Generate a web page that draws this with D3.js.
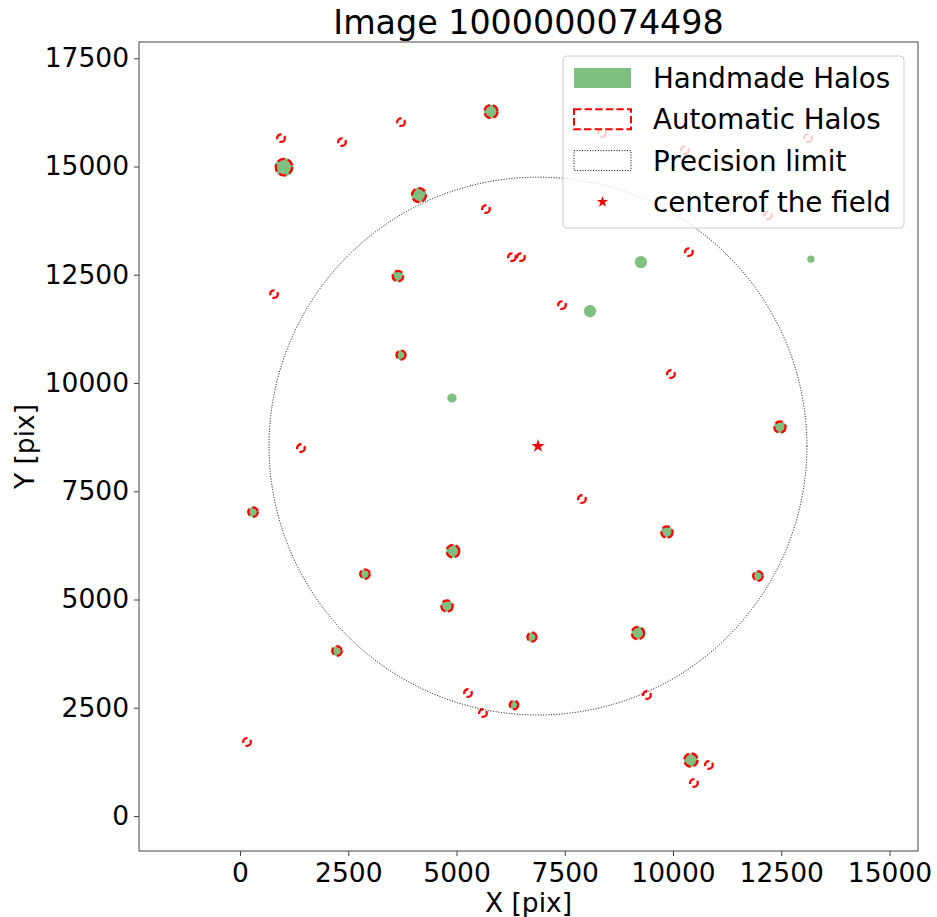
<!DOCTYPE html>
<html lang="en">
<head>
    <script src="https://cdn.jsdelivr.net/npm/d3@7/dist/d3.min.js"></script>
    <meta charset="UTF-8">
    <title>Image 1000000074498</title>
    <style>
        body {
            margin: 0;
            background: #fff;
        }

        svg text {
            font-family: "DejaVu Sans", sans-serif;
            fill: #000;
        }

        .tick line {
            stroke: #444;
        }
    </style>
</head>
<body>
<svg id="chart" width="937" height="917"></svg>
<script>
    // handmade halos (green discs)
    var handX = [1016, 5796, 4133, 3648, 3718, 300, 4918, 2886, 4780, 2240, 6327, 6742, 9190, 9860, 11961, 12469, 10414, 9259, 8082, 4895, 13184];
    var handY = [14986, 16269, 14339, 12469, 10645, 7019, 6119, 5588, 4849, 3810, 2563, 4133, 4225, 6558, 5542, 8982, 1293, 12792, 11660, 9652, 12861];
    var handR = [215, 165, 178, 135, 118, 118, 158, 118, 142, 118, 108, 118, 155, 142, 118, 142, 165, 142, 142, 108, 84];

    // automatic halos (red dashed rings)
    var autoX = [1016, 5796, 4133, 3648, 3718, 300, 4918, 2886, 4780, 2240, 6327, 6742, 9190, 9860, 11961, 12469, 10414,
        947, 2355, 3718, 5680, 6281, 6488, 7435, 785, 1408, 9952, 10367, 7897, 5265, 5611, 9398, 162, 10829, 10483, 8359, 13115, 10275, 12192];
    var autoY = [14986, 16269, 14339, 12469, 10645, 7019, 6119, 5588, 4849, 3810, 2563, 4133, 4225, 6558, 5542, 8982, 1293,
        15655, 15563, 16024, 14016, 12907, 12907, 11799, 12053, 8497, 10206, 13023, 7320, 2840, 2378, 2794, 1709, 1178, 762, 15771, 15655, 15378, 13870];
    var autoR = [190, 150, 160, 122, 105, 110, 145, 110, 130, 110, 98, 105, 142, 130, 110, 130, 152,
        88, 88, 88, 88, 88, 88, 88, 88, 88, 88, 88, 88, 88, 88, 88, 88, 88, 88, 88, 88, 88, 88];

    var fieldCenter = [6881, 8543];
    var precisionRadius = 6211;

    var xTicks = [0, 2500, 5000, 7500, 10000, 12500, 15000];
    var yTicks = [0, 2500, 5000, 7500, 10000, 12500, 15000, 17500];

    var legendLabels = ["Handmade Halos", "Automatic Halos", "Precision limit", "centerof the field"];

    var svg = d3.select("#chart");
    var plotL = 139, plotR = 918, plotT = 42, plotB = 851;

    var x = d3.scaleLinear().domain([-2333, 15658]).range([plotL, plotR]);
    var y = d3.scaleLinear().domain([-808, 17875]).range([plotB, plotT]);
    var k = x(1) - x(0);

    svg.append("defs").append("clipPath")
            .attr("id", "plot-clip")
            .append("rect")
            .attr("x", plotL)
            .attr("y", plotT)
            .attr("width", plotR - plotL)
            .attr("height", plotB - plotT);

    var plot = svg.append("g").attr("clip-path", "url(#plot-clip)");

    var handData = handX.map(function (v, i) {
        return {x: v, y: handY[i], r: handR[i]};
    });
    var autoData = autoX.map(function (v, i) {
        return {x: v, y: autoY[i], r: autoR[i]};
    });

    plot.append("g")
            .selectAll("circle")
            .data(handData)
            .enter().append("circle")
            .attr("cx", function (d) {
                return x(d.x);
            })
            .attr("cy", function (d) {
                return y(d.y);
            })
            .attr("r", function (d) {
                return d.r * k;
            })
            .attr("fill", "green")
            .attr("fill-opacity", 0.5);

    plot.append("g")
            .selectAll("circle")
            .data(autoData)
            .enter().append("circle")
            .attr("cx", function (d) {
                return x(d.x);
            })
            .attr("cy", function (d) {
                return y(d.y);
            })
            .attr("r", function (d) {
                return d.r * k;
            })
            .attr("fill", "none")
            .attr("stroke", "red")
            .attr("stroke-width", 2.3)
            .attr("stroke-dasharray", "7.4 3.2");

    plot.append("circle")
            .attr("cx", x(fieldCenter[0]))
            .attr("cy", y(fieldCenter[1]))
            .attr("r", precisionRadius * k)
            .attr("fill", "none")
            .attr("stroke", "#000")
            .attr("stroke-width", 1)
            .attr("stroke-dasharray", "1 1.65");

    plot.append("path")
            .attr("d", d3.symbol().type(d3.symbolStar).size(55)())
            .attr("transform", "translate(" + x(fieldCenter[0]) + "," + y(fieldCenter[1]) + ")")
            .attr("fill", "red");

    // axes
    var xAxis = svg.append("g")
            .attr("transform", "translate(0," + plotB + ")")
            .call(d3.axisBottom(x).tickValues(xTicks).tickSize(5).tickPadding(7).tickFormat(d3.format("d")));
    var yAxis = svg.append("g")
            .attr("transform", "translate(" + plotL + ",0)")
            .call(d3.axisLeft(y).tickValues(yTicks).tickSize(5).tickPadding(5).tickFormat(d3.format("d")));
    [xAxis, yAxis].forEach(function (a) {
        a.select(".domain").remove();
        a.selectAll("text").style("font-size", "26.5px").style("font-family", "'DejaVu Sans', sans-serif");
    });

    svg.append("rect")
            .attr("x", plotL)
            .attr("y", plotT)
            .attr("width", plotR - plotL)
            .attr("height", plotB - plotT)
            .attr("fill", "none")
            .attr("stroke", "#444")
            .attr("stroke-width", 1);

    svg.append("text")
            .attr("x", (plotL + plotR) / 2)
            .attr("y", 34)
            .attr("text-anchor", "middle")
            .style("font-size", "33.3px")
            .text("Image 1000000074498");

    svg.append("text")
            .attr("x", (plotL + plotR) / 2)
            .attr("y", 912)
            .attr("text-anchor", "middle")
            .style("font-size", "26.5px")
            .text("X [pix]");

    svg.append("text")
            .attr("transform", "translate(34," + (plotT + plotB) / 2 + ") rotate(-90)")
            .attr("text-anchor", "middle")
            .style("font-size", "26.5px")
            .text("Y [pix]");

    // legend
    var legend = svg.append("g").attr("transform", "translate(563,56)");
    legend.append("rect")
            .attr("width", 341)
            .attr("height", 172)
            .attr("rx", 4)
            .attr("fill", "#fff")
            .attr("fill-opacity", 0.8)
            .attr("stroke", "#ccc");

    var rows = legend.selectAll("g.row")
            .data(legendLabels)
            .enter().append("g")
            .attr("class", "row")
            .attr("transform", function (d, i) {
                return "translate(0," + (22 + i * 41.3) + ")";
            });

    rows.append("text")
            .attr("x", 90)
            .attr("dy", "0.36em")
            .style("font-size", "27.7px")
            .text(function (d) {
                return d;
            });

    rows.each(function (d, i) {
        var g = d3.select(this);
        if (i === 0) {
            g.append("rect").attr("x", 11).attr("y", -10).attr("width", 57).attr("height", 20)
                    .attr("fill", "green").attr("fill-opacity", 0.5);
        } else if (i === 1) {
            g.append("rect").attr("x", 11).attr("y", -10).attr("width", 57).attr("height", 20)
                    .attr("fill", "none").attr("stroke", "red").attr("stroke-width", 2)
                    .attr("stroke-dasharray", "7.4 3.2");
        } else if (i === 2) {
            g.append("rect").attr("x", 11).attr("y", -10).attr("width", 57).attr("height", 20)
                    .attr("fill", "none").attr("stroke", "#000").attr("stroke-width", 1)
                    .attr("stroke-dasharray", "1 1.65");
        } else {
            g.append("path")
                    .attr("d", d3.symbol().type(d3.symbolStar).size(40)())
                    .attr("transform", "translate(39.5,0)")
                    .attr("fill", "red");
        }
    });
</script>
</body>
</html>
